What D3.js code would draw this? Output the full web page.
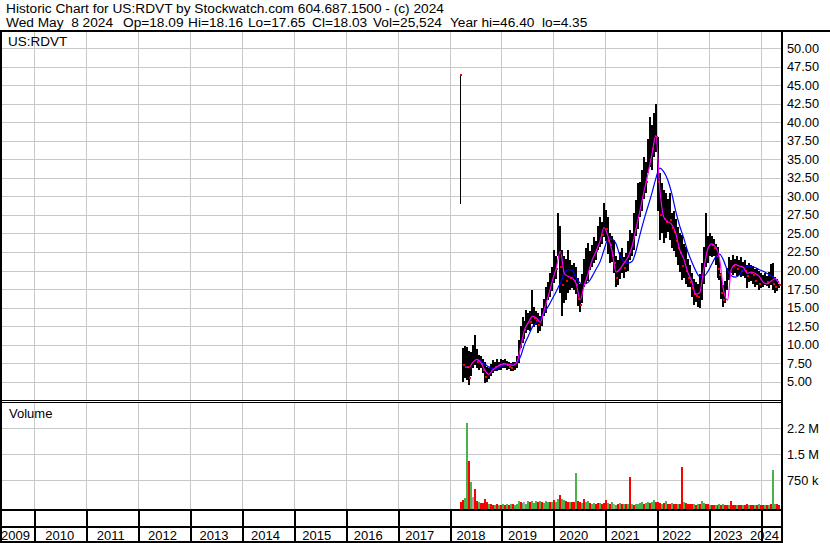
<!DOCTYPE html>
<html><head><meta charset="utf-8">
<script src="https://cdn.jsdelivr.net/npm/d3@7"></script>
<style>
body{margin:0;background:#fff}
svg{display:block}
text{font-family:"Liberation Sans",Arial,sans-serif;fill:#000}
</style>
</head><body><svg id="c" width="830" height="543"></svg>
<script>
// ---------------- data ----------------
const titleText = "Historic Chart for US:RDVT by Stockwatch.com 604.687.1500 - (c) 2024";
const quoteItems = ["Wed May  8 2024", "Op=18.09", "Hi=18.16", "Lo=17.65", "Cl=18.03", "Vol=25,524", "Year hi=46.40", "lo=4.35"];
const symbolLabel = "US:RDVT";
const volumeLabel = "Volume";
const years = [2009, 2010, 2011, 2012, 2013, 2014, 2015, 2016, 2017, 2018, 2019, 2020, 2021, 2022, 2023, 2024];
const priceTicks = [5, 7.5, 10, 12.5, 15, 17.5, 20, 22.5, 25, 27.5, 30, 32.5, 35, 37.5, 40, 42.5, 45, 47.5, 50];
const volTicks = [750000, 1500000, 2250000];
const volTickLabels = ["750 k", "1.5 M", "2.2 M"];
const lastDate = "2024-05-08";
const barStepDays = 14;   // one bar per two weeks, ending at lastDate
const maStepDays = 28;    // moving-average points every four weeks, ending at lastDate

const highs = [46.4,
 9.6,9.8,9.7,9.2,9.0,10.0,11.3,9.4,8.6,8.4,8.0,7.6,7.0,6.9,7.4,7.9,7.6,8.0,7.7,8.1,
 7.9,8.0,7.8,7.6,7.5,7.6,7.7,8.4,10.6,12.5,13.7,13.2,14.7,14.2,14.5,17.4,15.1,14.6,14.3,13.8,
 15.0,16.2,17.8,18.4,19.6,20.5,22.8,22.0,27.7,26.0,22.8,22.0,21.5,22.8,21.4,20.8,21.0,20.5,19.0,18.2,
 19.5,21.5,23.0,23.7,22.6,23.5,24.5,24.0,26.0,27.2,26.6,29.1,28.2,27.2,25.0,24.6,24.1,22.0,21.4,22.5,
 23.0,21.8,22.4,24.0,25.5,25.0,27.8,29.5,31.8,32.0,33.6,35.3,34.6,37.8,40.7,39.6,41.2,42.5,38.0,33.1,
 31.8,30.9,30.4,29.6,30.4,27.7,28.0,27.0,25.9,25.0,24.8,23.6,23.2,21.6,20.8,19.6,18.8,18.4,18.2,19.5,
 21.0,23.2,27.7,24.6,25.0,24.6,24.2,23.6,23.2,21.4,19.6,18.0,18.6,20.4,21.8,21.4,22.1,21.6,22.0,21.4,
 21.8,21.2,21.4,20.8,21.0,20.7,20.6,20.2,20.4,20.0,19.6,19.4,19.6,19.2,19.8,20.9,21.0,19.1,18.9,18.16];
const lows = [29.0,
 4.9,5.5,5.2,4.6,5.8,6.8,7.2,6.9,6.6,6.8,6.2,4.8,5.0,5.4,5.8,6.2,6.4,6.5,6.6,6.6,
 6.8,6.9,6.6,6.7,6.4,6.5,6.6,6.8,7.5,9.6,10.2,10.8,11.6,12.0,11.8,12.8,12.4,12.6,11.6,11.8,
 12.5,13.8,14.3,16.0,16.4,17.2,18.3,18.8,22.0,17.0,13.8,15.6,16.0,17.0,17.4,17.6,17.4,16.8,15.2,14.4,
 15.6,17.8,18.2,18.6,20.1,20.5,21.0,21.4,22.8,23.2,23.6,24.5,24.0,22.2,21.0,21.2,19.6,17.8,18.0,18.8,
 19.6,19.0,19.8,20.0,21.4,22.0,22.8,24.6,25.6,27.2,28.0,29.6,30.4,33.1,34.0,33.6,35.3,36.0,28.0,24.1,
 25.0,23.7,24.4,25.2,24.1,23.0,22.6,21.8,20.8,19.8,18.7,19.0,18.2,17.8,17.8,16.4,15.4,15.8,15.1,15.0,
 16.0,18.2,20.5,21.0,22.0,21.8,22.0,20.8,19.0,18.7,16.2,15.1,15.6,17.4,18.7,19.6,19.4,19.6,19.2,19.4,
 19.1,19.3,19.0,17.7,18.4,18.6,18.2,17.8,18.0,17.4,17.6,17.8,18.0,17.9,17.6,18.0,17.4,17.0,17.2,17.65];
const closes = [46.4,
 7.2,8.0,7.0,5.5,8.2,8.5,8.8,7.6,7.7,7.4,6.6,5.6,5.8,6.1,6.8,7.2,7.0,7.5,7.1,7.6,
 7.4,7.7,7.2,7.0,6.9,7.2,7.3,7.9,9.8,11.6,12.8,12.0,13.2,13.6,13.0,14.8,13.6,13.2,12.6,13.0,
 14.2,15.6,16.8,17.2,18.4,19.6,21.0,20.2,25.0,20.5,18.0,19.5,18.6,20.0,19.0,19.4,18.6,18.0,16.2,15.4,
 17.6,19.2,19.8,20.6,21.4,22.2,23.0,22.6,24.4,25.2,24.8,26.5,25.6,24.0,23.4,22.0,21.0,19.0,19.6,20.8,
 21.2,20.4,21.0,22.0,23.6,24.0,26.0,27.0,28.4,29.6,30.5,32.4,32.0,35.0,37.2,36.4,38.5,38.0,32.0,27.5,
 28.6,27.0,26.6,27.4,26.8,25.8,25.2,24.0,23.0,22.4,20.6,21.0,20.0,19.0,18.4,17.6,16.8,16.6,16.4,17.2,
 19.0,21.6,23.0,23.6,23.8,23.4,23.0,22.0,20.2,19.4,17.0,16.0,17.2,19.4,20.6,20.8,20.6,20.8,20.2,20.4,
 20.0,20.4,20.0,19.2,19.8,19.6,19.4,18.6,19.0,18.2,18.4,18.6,18.8,18.4,18.8,19.2,18.2,17.8,18.2,18.03];
// volume in thousands of shares, with bar colour code: u = up (green), d = down (red), n = unchanged (grey)
const volumes = [120,
 180,240,2410,1310,710,260,500,150,110,90,90,210,110,70,60,50,50,70,40,50,
 60,40,70,50,60,80,50,70,150,110,90,120,80,160,120,140,100,160,120,150,
 120,100,160,110,130,110,180,130,200,330,220,190,140,130,110,120,110,970,150,110,
 90,220,110,140,90,80,100,70,90,100,60,90,190,100,80,110,70,50,60,90,
 70,60,80,70,850,70,50,80,70,90,110,80,100,120,90,130,190,110,130,90,
 70,100,150,80,70,90,60,80,70,60,1140,110,90,60,80,70,60,50,80,60,
 150,90,70,60,50,40,50,30,40,60,40,70,50,40,50,160,40,50,30,40,
 50,40,30,60,40,30,40,50,30,60,50,40,50,40,50,60,1050,60,70,30];
const volSide = ("d" +
 "duudunddudddduddudud" +
 "udududuuudunuuduuudu" +
 "duuududuuduudduddudd" +
 "uduuduuddudddudunudu" +
 "dudududuuuuduuduuddd" +
 "ududduddudduddddudud" +
 "uudduddudududdudddud" +
 "dudduddududdududuuddd").split("");
const maShort = [7.0,6.9,7.6,8.0,7.6,6.6,6.0,6.6,7.0,7.3,7.4,7.3,7.2,7.5,9.6,12.0,13.0,13.8,13.6,13.0,
 14.8,16.6,18.6,20.4,22.6,19.6,19.2,19.0,18.2,16.0,18.0,19.6,21.4,22.6,24.0,25.8,24.6,22.6,19.8,20.2,
 21.0,21.8,23.2,25.6,28.0,30.6,33.0,35.6,38.2,31.0,27.2,26.6,26.2,25.0,22.8,21.6,19.8,18.6,16.8,17.0,
 20.0,22.8,23.6,23.2,21.6,17.4,16.0,20.2,20.8,20.6,20.4,19.6,19.8,19.6,19.2,18.4,18.2,18.6,18.9,18.2];
const maLong = [null,null,null,7.9,7.8,7.4,7.0,6.8,6.8,7.0,7.3,7.4,7.4,7.5,8.4,10.0,11.2,12.4,13.0,13.6,
 14.4,15.2,16.2,17.2,18.3,19.6,20.1,20.0,19.0,18.3,18.2,18.4,19.2,20.2,21.2,22.8,24.2,24.2,23.6,22.0,
 21.2,21.0,21.2,22.6,24.8,26.8,28.6,30.4,32.4,33.8,33.3,32.2,30.4,28.0,26.0,24.4,22.6,21.2,20.0,19.2,
 19.2,19.8,20.8,21.8,22.2,21.4,20.0,19.3,19.1,19.4,20.2,20.6,20.5,20.4,20.1,19.9,19.6,19.3,18.9,18.4];

// ---------------- layout ----------------
const svg = d3.select("#c");
const W = 830, H = 543;
const plotL = 2, plotR = 782;
const priceTop = 32, priceBot = 400;
const volTop = 402, volBot = 509;

const end = d3.timeParse("%Y-%m-%d")(lastDate);
const barDates = highs.map((_, i) => d3.timeDay.offset(end, -barStepDays * (highs.length - 1 - i)));
const maDates = maShort.map((_, i) => d3.timeDay.offset(end, -maStepDays * (maShort.length - 1 - i)));

const x = d3.scaleTime().domain([new Date(2010, 0, 1), new Date(2024, 0, 1)]).range([34.3, 761]);
const y = d3.scaleLinear().domain([5, 50]).range([381.7, 48.1]);
const yv = d3.scaleLinear().domain([0, 2250000]).range([506.3, 428.3]);

const yearX = yr => x(new Date(yr, 0, 1));

// clip paths
const defs = svg.append("defs");
defs.append("clipPath").attr("id", "cp").append("rect")
  .attr("x", plotL).attr("y", priceTop).attr("width", plotR - plotL - 1).attr("height", priceBot - priceTop);
defs.append("clipPath").attr("id", "cv").append("rect")
  .attr("x", plotL).attr("y", volTop).attr("width", plotR - plotL - 1).attr("height", volBot - volTop);

// gridlines: price
const gP = svg.append("g").attr("clip-path", "url(#cp)").attr("shape-rendering", "crispEdges");
gP.selectAll("line.h").data(priceTicks).join("line")
  .attr("x1", plotL).attr("x2", plotR)
  .attr("y1", d => Math.round(y(d)) + 0.5).attr("y2", d => Math.round(y(d)) + 0.5)
  .attr("stroke", "#c8c8c8");
gP.selectAll("line.v").data(years.slice(1)).join("line")
  .attr("x1", d => Math.round(yearX(d)) + 0.5).attr("x2", d => Math.round(yearX(d)) + 0.5)
  .attr("y1", priceTop).attr("y2", priceBot)
  .attr("stroke", "#c8c8c8");

// gridlines: volume
const gV = svg.append("g").attr("clip-path", "url(#cv)").attr("shape-rendering", "crispEdges");
gV.selectAll("line.h").data(volTicks).join("line")
  .attr("x1", plotL).attr("x2", plotR)
  .attr("y1", d => Math.round(yv(d)) + 0.5).attr("y2", d => Math.round(yv(d)) + 0.5)
  .attr("stroke", "#c8c8c8");
gV.selectAll("line.v").data(years.slice(1)).join("line")
  .attr("x1", d => Math.round(yearX(d)) + 0.5).attr("x2", d => Math.round(yearX(d)) + 0.5)
  .attr("y1", volTop).attr("y2", volBot)
  .attr("stroke", "#c8c8c8");

// price bars
const bars = highs.map((h, i) => ({d: barDates[i], h, l: lows[i], c: closes[i], i}));
const gB = svg.append("g").attr("clip-path", "url(#cp)");
gB.append("g").attr("shape-rendering", "crispEdges").selectAll("rect").data(bars).join("rect")
  .attr("x", d => Math.round(x(d.d)) - 1)
  .attr("width", d => d.i === 0 ? 1 : 2)
  .attr("y", d => y(d.h))
  .attr("height", d => Math.max(1, y(d.l) - y(d.h)))
  .attr("fill", "#000");
// red close ticks on down bars
gB.append("g").attr("shape-rendering", "crispEdges").selectAll("rect").data(bars.filter(d => d.i === 0 || d.c < bars[d.i - 1].c)).join("rect")
  .attr("x", d => Math.round(x(d.d)) - (d.i === 0 ? 1 : 0)).attr("width", 2)
  .attr("y", d => Math.round(y(d.c)) - 1).attr("height", 2)
  .attr("fill", "#ff0000");

// moving averages
const lineGen = arr => d3.line()
  .defined(d => d.v != null)
  .x(d => x(d.d)).y(d => y(d.v))
  .curve(d3.curveMonotoneX)(arr);
const longPts = maLong.map((v, i) => ({d: maDates[i], v}));
const shortPts = maShort.map((v, i) => ({d: maDates[i], v}));
gB.append("path").attr("d", lineGen(longPts)).attr("fill", "none").attr("stroke", "#0000ff").attr("stroke-width", 1.2);
gB.append("path").attr("d", lineGen(shortPts)).attr("fill", "none").attr("stroke", "#ff00ff").attr("stroke-width", 1.2);

// volume bars
const volColor = {u: "#4cb04c", d: "#ff0000", n: "#a8a8a8"};
const vb = volumes.map((v, i) => ({d: barDates[i], v: v * 1000, s: volSide[i] || "d"}));
svg.append("g").attr("clip-path", "url(#cv)").attr("shape-rendering", "crispEdges")
  .selectAll("rect").data(vb).join("rect")
  .attr("x", d => Math.round(x(d.d)) - 1).attr("width", 2)
  .attr("y", d => yv(d.v))
  .attr("height", d => volBot - yv(d.v))
  .attr("fill", d => volColor[d.s]);

// ---------------- frame ----------------
const frame = svg.append("g").attr("shape-rendering", "crispEdges").attr("fill", "#000");
frame.append("rect").attr("x", 0).attr("y", 30).attr("width", W).attr("height", 2);           // under header
frame.append("rect").attr("x", 0).attr("y", 30).attr("width", 2).attr("height", H - 30);      // left
frame.append("rect").attr("x", 781).attr("y", 30).attr("width", 2).attr("height", H - 30);    // right of plot
frame.append("rect").attr("x", 0).attr("y", 400).attr("width", 782).attr("height", 1);        // double line
frame.append("rect").attr("x", 0).attr("y", 402).attr("width", 782).attr("height", 1);
frame.append("rect").attr("x", 0).attr("y", 509).attr("width", 782).attr("height", 2);
frame.append("rect").attr("x", 0).attr("y", 525.5).attr("width", 782).attr("height", 2);
frame.append("rect").attr("x", 0).attr("y", 541).attr("width", 782).attr("height", 2);
frame.selectAll("rect.yr").data(years.slice(1)).join("rect").attr("class", "yr")
  .attr("x", d => Math.round(yearX(d))).attr("y", 510).attr("width", 1.5).attr("height", 32);

// ---------------- text ----------------
svg.append("text").attr("x", 6).attr("y", 13.3).attr("font-size", 13.7).text(titleText);
const quoteX = [6, 123, 188, 248, 312, 373, 450, 542];
svg.append("g").selectAll("text").data(quoteItems).join("text")
  .attr("x", (d, i) => quoteX[i]).attr("y", 27.3).attr("font-size", 13.7)
  .style("white-space", "pre").text(d => d);

svg.append("text").attr("x", 8).attr("y", 45.5).attr("font-size", 13.5).text(symbolLabel);
svg.append("text").attr("x", 9).attr("y", 418).attr("font-size", 13).text(volumeLabel);

// price axis labels
svg.append("g").selectAll("text").data(priceTicks).join("text")
  .attr("x", 787).attr("y", d => y(d) + 4.5).attr("font-size", 12.8)
  .text(d => d3.format(".2f")(d));
// volume axis labels
svg.append("g").selectAll("text").data(volTicks).join("text")
  .attr("x", 787).attr("y", d => yv(d) + 4.5).attr("font-size", 12.8)
  .text((d, i) => volTickLabels[i]);

// year labels
svg.append("g").selectAll("text").data(years).join("text")
  .attr("x", d => d === 2009 ? 1 : d === 2024 ? 750 : yearX(d) + 11 - 0.5 * (d - 2010))
  .attr("y", 539.5).attr("font-size", 13)
  .text(d => d);
</script>
</body></html>
